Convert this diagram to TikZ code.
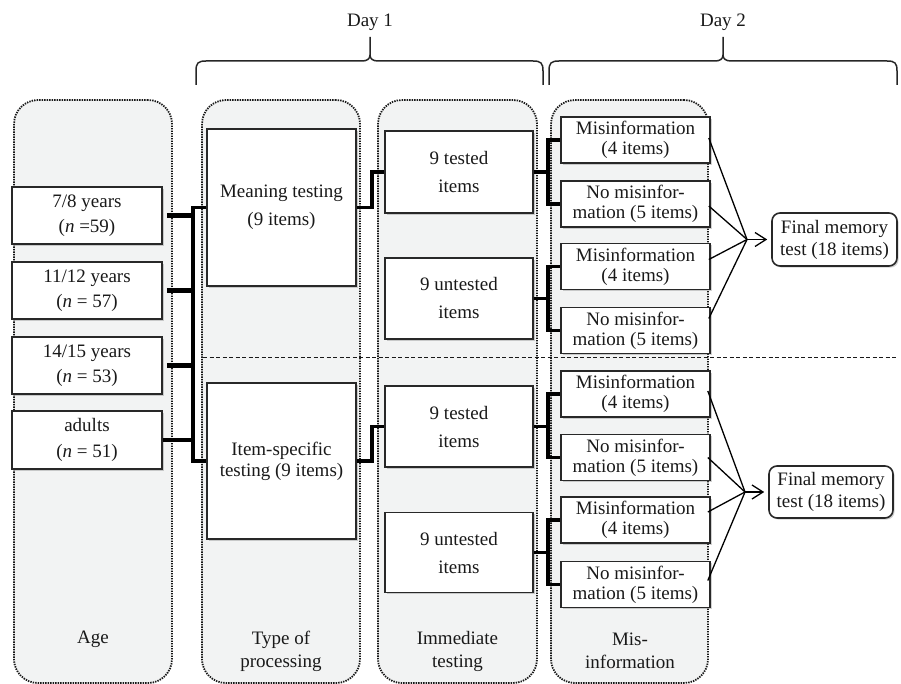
\documentclass[tikz,border=0pt]{standalone}
\usepackage{fontspec}
\setmainfont{Liberation Serif}
\usetikzlibrary{arrows.meta,shadows,calc}
\definecolor{colbg}{RGB}{242,243,243}
\definecolor{boxline}{RGB}{40,40,40}
\definecolor{txt}{RGB}{25,25,25}
\begin{document}
\begin{tikzpicture}[x=1pt,y=-1pt,
  colbox/.style={draw=black!90, line width=1.8pt, dash pattern=on 1.4pt off 1.1pt, fill=colbg, rounded corners=24pt, inner sep=0pt},
  wbox/.style={draw=boxline, line width=1.6pt, fill=white, inner sep=0pt, align=center, text=txt,
     drop shadow={shadow xshift=1.6pt, shadow yshift=-1.6pt, opacity=0.3, fill=black!60}},
  agebox/.style={wbox, minimum width=150pt, font=\fontsize{19}{25.5}\selectfont},
  typebox/.style={wbox, minimum width=149pt},
  immbox/.style={wbox, minimum width=148pt, font=\fontsize{19}{28}\selectfont},
  misbox/.style={wbox, minimum width=149pt, minimum height=46pt, font=\fontsize{19}{20}\selectfont},
  finbox/.style={wbox, rounded corners=8pt, font=\fontsize{19}{22}\selectfont},
  collabel/.style={align=center, text=txt, inner sep=0pt, font=\fontsize{19}{23}\selectfont},
  daylabel/.style={text=txt, inner sep=0pt, font=\fontsize{19}{23}\selectfont},
  brace/.style={draw=black!85, line width=1.5pt},
  stub/.style={line width=5pt, draw=black},
  conn/.style={line width=3.6pt, draw=black},
  conn2/.style={line width=3.2pt, draw=black},
  fan/.style={line width=1.3pt, draw=black},
  arr/.style={line width=1.3pt, draw=black, -{Straight Barb[length=11pt,width=14pt,line width=1.3pt]}, shorten >=4pt}
]
\useasboundingbox (0,0) rectangle (901,684);

% column containers
\node[colbox, minimum width=158pt, minimum height=583pt] (col1) at (93,391.5) {};
\node[colbox, minimum width=158pt, minimum height=583pt] (col2) at (281,391.5) {};
\node[colbox, minimum width=159pt, minimum height=583pt] (col3) at (457.5,391.5) {};
\node[colbox, minimum width=157pt, minimum height=583pt] (col4) at (629.5,391.5) {};

% dashed divider
\coordinate (dl) at (203,357);
\coordinate (dr) at (897,357);
\draw[line width=1pt, dash pattern=on 4pt off 2.5pt, draw=black!90] (dl) -- (dr);

% braces
\draw[brace] (196,85) -- (196,71) .. controls (196,63) and (198,61) .. (206,61) -- (362,61)
  .. controls (367,61) and (370,59) .. (370,55) -- (370,37);
\draw[brace] (370,55) .. controls (370,59) and (373,61) .. (378,61) -- (533,61)
  .. controls (541,61) and (543,63) .. (543,71) -- (543,85);
\draw[brace] (549,85) -- (549,71) .. controls (549,63) and (551,61) .. (559,61) -- (715,61)
  .. controls (720,61) and (723,59) .. (723,55) -- (723,37);
\draw[brace] (723,55) .. controls (723,59) and (726,61) .. (731,61) -- (887,61)
  .. controls (895,61) and (897,63) .. (897,71) -- (897,85);
\node[daylabel] (d1) at (370,22) {Day 1};
\node[daylabel] (d2) at (723,22) {Day 2};

% age boxes
\node[agebox, minimum height=57pt] (a1) at (87,215.5) {7/8 years\\(\textit{n} =59)};
\node[agebox, minimum height=57pt] (a2) at (87,290.5) {11/12 years\\(\textit{n} = 57)};
\node[agebox, minimum height=57pt] (a3) at (87,365.5) {14/15 years\\(\textit{n} = 53)};
\node[agebox, minimum height=58pt] (a4) at (87,440) {adults\\(\textit{n} = 51)};

% type of processing boxes
\node[typebox, minimum height=157pt, font=\fontsize{19}{28}\selectfont] (t1) at (281.5,207.5) {Meaning testing\\(9 items)};
\node[typebox, minimum height=156pt, font=\fontsize{19}{21}\selectfont] (t2) at (281.5,461) {Item-specific\\testing (9 items)};

% immediate testing boxes
\node[immbox, minimum height=82pt] (i1) at (459,172) {9 tested\\items};
\node[immbox, minimum height=81pt] (i2) at (459,298.5) {9 untested\\items};
\node[immbox, minimum height=81pt] (i3) at (459,426.5) {9 tested\\items};
\node[immbox, minimum height=80pt] (i4) at (459,552.5) {9 untested\\items};

% misinformation boxes
\node[misbox] (m1) at (635.5,140) {Misinformation\\(4 items)};
\node[misbox] (m2) at (635.5,204) {No misinfor-\\mation (5 items)};
\node[misbox] (m3) at (635.5,266.5) {Misinformation\\(4 items)};
\node[misbox] (m4) at (635.5,330.5) {No misinfor-\\mation (5 items)};
\node[misbox] (m5) at (635.5,394) {Misinformation\\(4 items)};
\node[misbox] (m6) at (635.5,457.5) {No misinfor-\\mation (5 items)};
\node[misbox] (m7) at (635.5,520) {Misinformation\\(4 items)};
\node[misbox] (m8) at (635.5,584.5) {No misinfor-\\mation (5 items)};

% final memory tests
\node[finbox, minimum width=125pt, minimum height=53pt] (f1) at (834.5,239.5) {Final memory\\test (18 items)};
\node[finbox, minimum width=124pt, minimum height=52pt] (f2) at (831,492) {Final memory\\test (18 items)};

% column labels
\node[collabel] (l1) at (93,639) {Age};
\node[collabel] (l2) at (281,651) {Type of\\processing};
\node[collabel] (l3) at (457.5,651) {Immediate\\testing};
\node[collabel] (l4) at (630,651) {Mis-\\information};

% age -> type connectors
\coordinate (bx) at (193,0);
\foreach \a in {a1,a2,a3} \draw[stub] ([xshift=4pt]\a.east) -- (\a.east -| bx);
\draw[conn2] (a4.east) -- (a4.east -| bx);
\draw[conn] (t1.west) -- (t1.west -| bx) -- (t2.west -| bx) -- (t2.west);

% type -> immediate
\draw[conn] (t1.east) -- ++(15,0) |- (i1.west);
\draw[conn] (t2.east) -- ++(15,0) |- (i3.west);

% immediate -> misinformation
\coordinate (jx) at (548,0);
\draw[conn2] (i1.east) -- (i1.east -| jx);
\draw[conn] (m1.west) -- (m1.west -| jx) -- (m2.west -| jx) -- (m2.west);
\draw[conn2] (i2.east) -- (i2.east -| jx);
\draw[conn] (m3.west) -- (m3.west -| jx) -- (m4.west -| jx) -- (m4.west);
\draw[conn2] (i3.east) -- (i3.east -| jx);
\draw[conn] (m5.west) -- (m5.west -| jx) -- (m6.west -| jx) -- (m6.west);
\draw[conn2] (i4.east) -- (i4.east -| jx);
\draw[conn] (m7.west) -- (m7.west -| jx) -- (m8.west -| jx) -- (m8.west);

% fans to final test
\coordinate (c1) at (747,239.5);
\coordinate (c2) at (745,492);
\draw[fan] ([xshift=-2pt,yshift=2pt]m1.east) -- (c1);
\draw[fan] ([xshift=-2pt,yshift=-2pt]m2.east) -- (c1);
\draw[fan] ([xshift=-2pt,yshift=7pt]m3.east) -- (c1);
\draw[fan] ([xshift=-2pt,yshift=12pt]m4.east) -- (c1);
\draw[arr] (c1) -- (f1.west);
\draw[fan] ([xshift=-3pt,yshift=3pt]m5.east) -- (c2);
\draw[fan] ([xshift=-3pt]m6.east) -- (c2);
\draw[fan] ([xshift=-3pt,yshift=8pt]m7.east) -- (c2);
\draw[fan] ([xshift=-3pt,yshift=4pt]m8.east) -- (c2);
\draw[arr] (c2) -- (f2.west);
\end{tikzpicture}
\end{document}
